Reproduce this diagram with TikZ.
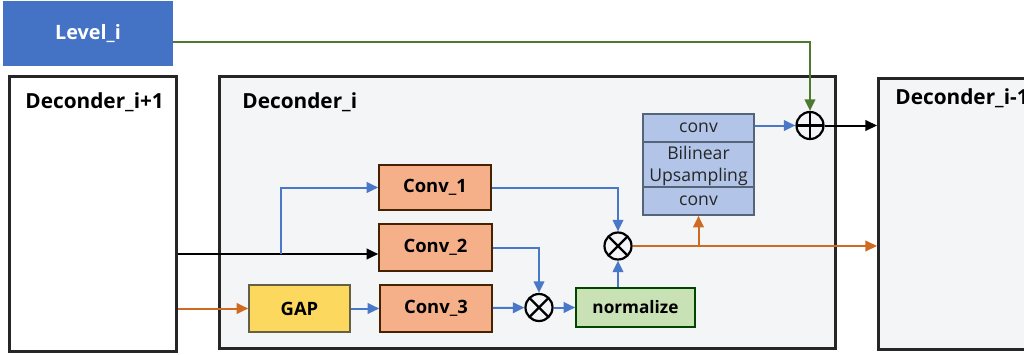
\documentclass[tikz,border=0pt]{standalone}
\usepackage{fontspec}
\setmainfont{Open Sans}
\usetikzlibrary{arrows.meta,calc}
\definecolor{lvblue}{HTML}{4472C4}
\definecolor{lnblue}{HTML}{4A78C8}
\definecolor{lnorange}{HTML}{CF6A22}
\definecolor{lngreen}{HTML}{4E7A30}
\definecolor{orfill}{HTML}{F5B08A}
\definecolor{gapfill}{HTML}{FCD95E}
\definecolor{nrmfill}{HTML}{C8E2B6}
\definecolor{upfill}{HTML}{B2C5E8}
\definecolor{upline}{HTML}{56647A}
\definecolor{panel}{HTML}{F3F5F7}
\tikzset{
  blk/.style={draw=black!85,line width=1.3pt,fill=#1},
  blk/.default=white,
  opbox/.style={draw=#1,line width=0.8pt,inner sep=0pt,font=\bfseries\fontsize{9.2}{10}\selectfont},
  ttl/.style={font=\bfseries\fontsize{10.4}{12}\selectfont,anchor=base west,inner sep=0pt},
  cn/.style={line width=1pt,-{Triangle[length=5.8pt,width=5.3pt]}},
  opcirc/.style={circle,draw=black,line width=1.1pt,minimum size=13.5pt,inner sep=0pt},
  times/.style={opcirc,path picture={
     \draw[line width=1.1pt] ($(path picture bounding box.center)+(45:6.75pt)$) -- ($(path picture bounding box.center)+(225:6.75pt)$)
       ($(path picture bounding box.center)+(135:6.75pt)$) -- ($(path picture bounding box.center)+(315:6.75pt)$);}},
  plus/.style={opcirc,path picture={
     \draw[line width=1.1pt] ($(path picture bounding box.center)+(0:6.75pt)$) -- ($(path picture bounding box.center)+(180:6.75pt)$)
       ($(path picture bounding box.center)+(90:6.75pt)$) -- ($(path picture bounding box.center)+(270:6.75pt)$);}}
}
\begin{document}
\begin{tikzpicture}[x=0.5pt,y=-0.5pt]
\useasboundingbox (0,0) rectangle (1024,354);
\clip (0,0) rectangle (1024,354);
\fill[white] (0,0) rectangle (1024,354);

% decoder panels
\node[blk,minimum width=83.5pt,minimum height=137.5pt,anchor=north west] (dip) at (8,75) {};
\node[blk=panel,minimum width=308pt,minimum height=136pt,anchor=north west] (di) at (218,75) {};
\node[blk=panel,minimum width=80pt,minimum height=135.5pt,anchor=north west] (dim) at (877,77) {};
\node[ttl] (tdip) at (25,108) {Deconder\_i+1};
\node[ttl] (tdi) at (242,108) {Deconder\_i};
\node[ttl] (tdim) at (895,104) {Deconder\_i-1};

% level input
\node[fill=lvblue,minimum width=85pt,minimum height=32.5pt,text=white,
      font=\bfseries\fontsize{9.9}{11}\selectfont] (level) at (88,33.5) {Level\_i};

% attention branch
\node[opbox=black!55!orange!60!black,fill=orfill,minimum width=56pt,minimum height=22.5pt] (conv1) at (435,187.5) {Conv\_1};
\node[opbox=black!55!orange!60!black,fill=orfill,minimum width=56.5pt,minimum height=23.5pt] (conv2) at (435.5,247.5) {Conv\_2};
\node[opbox=black!55!orange!60!black,fill=orfill,minimum width=56pt,minimum height=23.5pt] (conv3) at (436,308.5) {Conv\_3};
\node[opbox=black!50!yellow!60!black,fill=gapfill,minimum width=50.5pt,minimum height=23.5pt] (gap) at (299.5,308.5) {GAP};
\node[opbox=black!45!green!50!black,fill=nrmfill,minimum width=59.5pt,minimum height=19.5pt,font=\bfseries\fontsize{8.6}{10}\selectfont] (norm) at (635.5,307.5) {normalize};
\node[times] (ox1) at (539,307.5) {};
\node[times] (ox2) at (618,246) {};
\node[plus] (op) at (810,125.5) {};

% upsampling block
\node[draw=upline,line width=0.8pt,fill=upfill,minimum width=55.5pt,minimum height=50.5pt,inner sep=0pt] (ups) at (698.5,164.5) {};
\draw[draw=upline,line width=0.8pt] (643,142) -- (754,142) (643,187) -- (754,187);
\begin{scope}[every node/.style={font=\fontsize{8.8}{10}\selectfont,text=black!85,inner sep=0pt}]
\node (uc1) at (698.5,128) {conv};
\node (ub) at (698.5,152.5) {Bilinear};
\node (uu) at (698.5,177) {Upsampling};
\node (uc2) at (698.5,201) {conv};
\end{scope}

% connectors
\coordinate (split) at (281,254);
\draw[cn,black] (dip.east |- split) -- ([yshift=-3.25pt]conv2.west);
\draw[cn,lnblue] (split) |- (conv1.west);
\draw[cn,lnorange] (dip.east |- gap.west) -- (gap.west);
\draw[cn,lnblue] (gap) -- (conv3);
\draw[cn,lnblue] (conv3) -- (ox1);
\draw[cn,lnblue] (conv2.east) -| (ox1.north);
\draw[cn,lnblue] (ox1) -- (norm);
\draw[cn,lnblue] (ox2 |- norm.north) -- (ox2.south);
\draw[cn,lnblue] (conv1.east) -| (ox2.north);
\draw[cn,lnorange] (ox2.east) -- (dim.west |- ox2);
\coordinate (ubr) at (ups.south |- ox2);
\draw[cn,lnorange] (ubr) -- (ups.south);
\draw[cn,lnblue] (ups.east |- op) -- (op.west);
\draw[cn,black] (op.east) -- (dim.west |- op);
\draw[cn,lngreen] ([yshift=-4pt]level.east) -| (op.north);
\end{tikzpicture}
\end{document}
